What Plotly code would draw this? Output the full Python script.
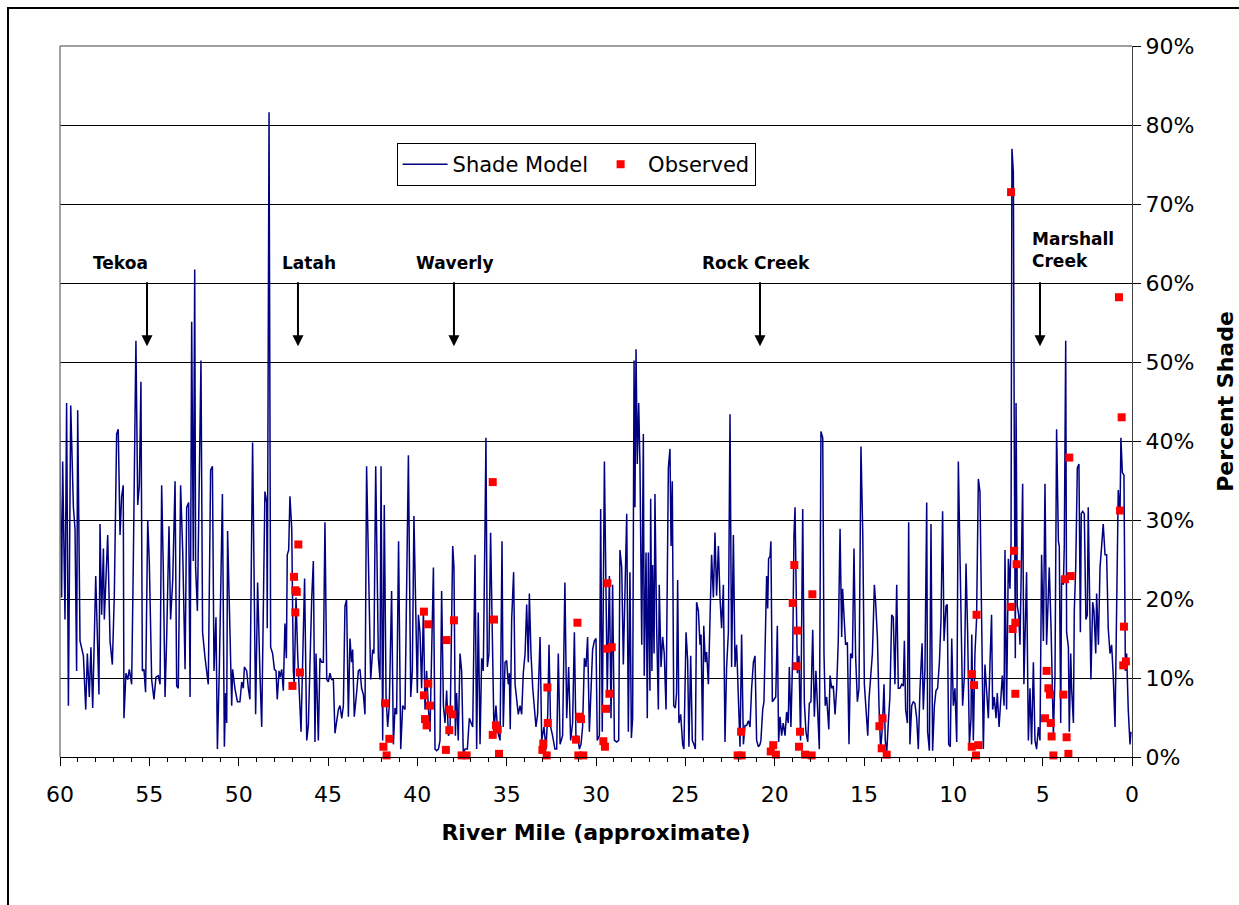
import plotly.graph_objects as go

# ---------------- data ----------------
model_mile = [
    60.28, 60.19, 60.04, 59.91, 59.85, 59.72, 59.63, 59.53, 59.40, 59.25, 59.16, 59.07, 59.01, 58.88, 58.69, 58.56,
    58.47, 58.36, 58.27, 58.17, 58.00, 57.82, 57.76, 57.67, 57.57, 57.52, 57.33, 57.20, 57.07, 56.96, 56.83, 56.74,
    56.64, 56.55, 56.46, 56.42, 56.31, 56.21, 56.12, 55.99, 55.90, 55.75, 55.65, 55.56, 55.47, 55.39, 55.30, 55.21,
    55.09, 55.00, 54.87, 54.74, 54.63, 54.50, 54.40, 54.31, 54.22, 54.12, 54.03, 53.90, 53.81, 53.69, 53.56, 53.47,
    53.38, 53.25, 53.13, 53.00, 52.91, 52.80, 52.72, 52.63, 52.54, 52.46, 52.41, 52.31, 52.11, 52.02, 51.88, 51.70,
    51.57, 51.47, 51.38, 51.27, 51.19, 51.08, 50.91, 50.80, 50.73, 50.67, 50.62, 50.49, 50.39, 50.34, 50.21, 50.07,
    49.93, 49.83, 49.74, 49.68, 49.55, 49.46, 49.37, 49.22, 49.14, 49.05, 48.94, 48.86, 48.81, 48.71, 48.62, 48.53,
    48.43, 48.40, 48.30, 48.21, 48.10, 48.00, 47.91, 47.84, 47.74, 47.69, 47.59, 47.50, 47.41, 47.33, 47.28, 47.20,
    47.13, 47.03, 46.94, 46.89, 46.79, 46.70, 46.51, 46.42, 46.31, 46.19, 46.10, 45.91, 45.82, 45.73, 45.67, 45.54,
    45.45, 45.35, 45.26, 45.17, 45.07, 44.98, 44.89, 44.80, 44.70, 44.61, 44.52, 44.42, 44.33, 44.23, 44.14, 44.05,
    43.96, 43.86, 43.77, 43.68, 43.62, 43.53, 43.40, 43.30, 43.21, 43.12, 43.02, 42.93, 42.84, 42.71, 42.61, 42.50,
    42.43, 42.33, 42.18, 42.09, 42.03, 41.94, 41.85, 41.75, 41.66, 41.57, 41.44, 41.34, 41.25, 41.16, 41.05, 40.93,
    40.82, 40.69, 40.50, 40.37, 40.28, 40.19, 40.09, 40.00, 39.94, 39.85, 39.76, 39.66, 39.57, 39.48, 39.39, 39.29,
    39.20, 39.10, 39.01, 38.92, 38.82, 38.73, 38.64, 38.54, 38.45, 38.36, 38.26, 38.17, 38.02, 37.95, 37.87, 37.80,
    37.71, 37.61, 37.52, 37.43, 37.33, 37.20, 37.09, 36.90, 36.77, 36.68, 36.59, 36.49, 36.40, 36.31, 36.21, 36.16,
    36.08, 35.99, 35.90, 35.80, 35.71, 35.60, 35.50, 35.37, 35.26, 35.19, 35.09, 35.00, 34.91, 34.85, 34.80, 34.72,
    34.61, 34.53, 34.44, 34.35, 34.25, 34.16, 34.07, 33.97, 33.88, 33.79, 33.73, 33.64, 33.54, 33.45, 33.36, 33.27,
    33.13, 33.04, 32.91, 32.80, 32.70, 32.63, 32.54, 32.43, 32.30, 32.20, 32.11, 32.01, 31.87, 31.74, 31.64, 31.53,
    31.42, 31.31, 31.21, 31.12, 31.03, 30.93, 30.84, 30.75, 30.65, 30.56, 30.47, 30.37, 30.28, 30.19, 30.09, 30.00,
    29.93, 29.81, 29.74, 29.65, 29.53, 29.46, 29.37, 29.25, 29.16, 29.07, 28.97, 28.84, 28.73, 28.66, 28.56, 28.47,
    28.38, 28.28, 28.19, 28.10, 28.02, 27.95, 27.87, 27.82, 27.76, 27.69, 27.61, 27.54, 27.44, 27.35, 27.30, 27.20,
    27.13, 27.07, 26.98, 26.94, 26.87, 26.83, 26.75, 26.70, 26.61, 26.51, 26.46, 26.36, 26.27, 26.18, 26.08, 25.95,
    25.86, 25.80, 25.73, 25.65, 25.56, 25.49, 25.43, 25.36, 25.26, 25.15, 25.08, 24.96, 24.87, 24.80, 24.70, 24.61,
    24.52, 24.44, 24.37, 24.27, 24.18, 24.12, 24.03, 23.97, 23.88, 23.81, 23.71, 23.62, 23.53, 23.43, 23.34, 23.25,
    23.15, 23.06, 22.97, 22.87, 22.78, 22.69, 22.59, 22.50, 22.41, 22.31, 22.22, 22.13, 22.03, 21.94, 21.85, 21.75,
    21.66, 21.57, 21.47, 21.38, 21.29, 21.19, 21.10, 21.01, 20.91, 20.82, 20.77, 20.67, 20.60, 20.50, 20.45, 20.39,
    20.34, 20.26, 20.21, 20.13, 20.04, 19.94, 19.85, 19.78, 19.70, 19.61, 19.52, 19.42, 19.33, 19.24, 19.18, 19.09,
    18.99, 18.92, 18.86, 18.81, 18.73, 18.64, 18.55, 18.43, 18.34, 18.25, 18.15, 18.06, 17.97, 17.87, 17.78, 17.69,
    17.59, 17.50, 17.41, 17.31, 17.24, 17.17, 17.09, 16.97, 16.90, 16.81, 16.72, 16.62, 16.53, 16.44, 16.34, 16.25,
    16.20, 16.12, 16.03, 15.93, 15.84, 15.75, 15.65, 15.56, 15.47, 15.37, 15.28, 15.17, 15.07, 14.98, 14.89, 14.79,
    14.72, 14.63, 14.53, 14.48, 14.42, 14.35, 14.25, 14.16, 14.07, 13.97, 13.88, 13.81, 13.73, 13.64, 13.55, 13.45,
    13.36, 13.27, 13.17, 13.08, 12.99, 12.89, 12.80, 12.74, 12.67, 12.57, 12.50, 12.43, 12.33, 12.24, 12.15, 12.05,
    11.96, 11.87, 11.75, 11.68, 11.59, 11.49, 11.44, 11.34, 11.25, 11.16, 11.06, 10.97, 10.88, 10.78, 10.69, 10.60,
    10.52, 10.41, 10.34, 10.26, 10.17, 10.09, 10.00, 9.91, 9.81, 9.72, 9.63, 9.53, 9.48, 9.38, 9.29, 9.20,
    9.10, 9.01, 8.97, 8.88, 8.79, 8.70, 8.60, 8.51, 8.41, 8.32, 8.23, 8.13, 8.04, 7.95, 7.86, 7.80,
    7.71, 7.61, 7.54, 7.44, 7.35, 7.26, 7.16, 7.11, 7.02, 6.92, 6.83, 6.77, 6.72, 6.64, 6.59, 6.53,
    6.49, 6.42, 6.34, 6.27, 6.18, 6.12, 6.05, 5.97, 5.90, 5.80, 5.71, 5.62, 5.52, 5.43, 5.34, 5.24,
    5.15, 5.06, 4.96, 4.87, 4.78, 4.63, 4.53, 4.40, 4.31, 4.22, 4.12, 4.07, 3.99, 3.94, 3.84, 3.79,
    3.71, 3.66, 3.56, 3.51, 3.43, 3.38, 3.28, 3.23, 3.15, 3.06, 2.97, 2.89, 2.84, 2.76, 2.67, 2.58,
    2.50, 2.45, 2.35, 2.30, 2.20, 2.13, 2.03, 1.98, 1.88, 1.79, 1.70, 1.61, 1.51, 1.42, 1.33, 1.23,
    1.14, 1.05, 0.95, 0.86, 0.77, 0.67, 0.62, 0.54, 0.45, 0.37, 0.30, 0.21, 0.11, 0.06,
]
model_shade = [
    17.7, 9.8, 43.9, 20.2, 37.4, 17.4, 44.8, 6.5, 44.5, 31.6, 28.9, 10.9, 43.9, 14.7, 12.8, 6.0,
    13.1, 7.6, 13.9, 6.2, 22.9, 7.9, 29.5, 18.0, 26.4, 17.4, 28.1, 14.7, 11.7, 20.4, 40.9, 41.5,
    28.1, 33.0, 34.4, 4.9, 10.6, 9.8, 11.1, 9.2, 24.0, 52.7, 31.9, 34.4, 47.5, 10.9, 11.1, 8.2,
    30.0, 24.6, 9.8, 7.3, 10.1, 10.3, 9.2, 34.4, 24.0, 7.6, 15.0, 29.2, 17.4, 22.4, 34.9, 9.0,
    8.7, 34.4, 25.9, 11.1, 31.6, 32.2, 7.6, 55.1, 24.8, 61.7, 24.0, 18.5, 50.2, 15.8, 12.5, 9.2,
    36.3, 36.8, 10.9, 17.7, 1.0, 11.4, 33.3, 1.3, 8.1, 4.3, 28.6, 15.2, 6.5, 11.1, 8.7, 7.0,
    7.0, 9.5, 8.7, 11.4, 10.9, 8.7, 7.3, 39.8, 22.9, 5.4, 22.1, 12.5, 10.6, 3.8, 20.7, 33.6,
    32.2, 16.3, 81.6, 13.9, 13.1, 11.1, 10.9, 7.3, 10.9, 10.1, 11.1, 8.4, 16.9, 12.5, 25.6, 26.2,
    33.0, 28.9, 10.9, 9.2, 20.2, 13.1, 3.2, 12.0, 22.6, 2.1, 4.0, 20.2, 24.8, 1.9, 13.1, 2.1,
    12.5, 12.0, 12.0, 29.7, 9.8, 9.5, 10.6, 9.8, 9.8, 3.0, 4.6, 6.0, 6.5, 4.9, 6.5, 19.1,
    19.9, 5.1, 15.0, 12.0, 13.6, 5.1, 8.1, 10.9, 11.1, 8.7, 7.9, 5.4, 36.8, 19.6, 9.8, 13.6,
    13.1, 36.8, 12.5, 9.8, 36.8, 2.1, 31.9, 7.6, 3.8, 6.5, 21.0, 1.6, 6.2, 5.4, 27.3, 1.0,
    6.5, 6.0, 38.2, 7.6, 10.9, 30.5, 15.8, 8.1, 18.0, 15.8, 8.7, 18.5, 6.0, 10.9, 6.5, 3.2,
    13.1, 24.0, 1.0, 0.8, 1.0, 2.1, 21.0, 6.5, 4.3, 8.4, 2.7, 3.2, 26.7, 24.0, 2.7, 8.1,
    2.1, 13.1, 10.9, 0.5, 1.0, 1.0, 4.9, 3.8, 25.6, 1.0, 18.3, 1.6, 12.5, 10.9, 29.5, 40.4,
    11.4, 13.1, 28.4, 12.5, 3.2, 6.5, 3.2, 2.1, 27.3, 3.8, 12.0, 12.2, 9.2, 10.6, 3.5, 17.4,
    23.4, 9.2, 7.0, 5.4, 6.5, 5.4, 10.6, 13.1, 19.3, 12.0, 20.7, 13.1, 8.7, 6.5, 3.8, 5.4,
    15.2, 2.1, 3.8, 1.0, 5.4, 14.2, 3.8, 2.7, 1.0, 1.0, 13.1, 1.6, 2.7, 22.1, 4.9, 11.4,
    2.1, 4.3, 15.8, 2.1, 2.7, 1.0, 1.6, 3.8, 12.5, 11.4, 15.2, 3.2, 8.7, 13.6, 14.7, 15.0,
    2.1, 2.7, 31.4, 3.2, 37.4, 22.4, 8.1, 22.9, 4.9, 21.8, 2.1, 1.9, 2.1, 26.2, 24.0, 11.7,
    21.3, 30.8, 3.2, 23.4, 2.4, 4.9, 50.2, 31.6, 51.6, 37.1, 44.8, 37.1, 14.2, 40.9, 10.3, 25.9,
    4.9, 25.9, 8.4, 32.7, 10.9, 24.3, 13.1, 33.3, 16.9, 6.0, 21.8, 11.4, 15.2, 13.1, 6.0, 36.6,
    39.0, 26.7, 34.9, 6.5, 6.2, 8.1, 22.4, 4.3, 5.4, 1.6, 1.0, 15.8, 12.2, 1.3, 12.8, 2.1,
    1.6, 1.0, 19.6, 18.5, 14.2, 15.5, 2.1, 16.6, 12.0, 13.3, 9.2, 16.9, 25.6, 20.2, 28.4, 20.4,
    26.7, 20.2, 16.3, 21.8, 1.9, 11.4, 15.8, 43.4, 11.4, 28.1, 11.4, 14.2, 7.6, 1.3, 15.5, 1.6,
    4.0, 4.0, 4.6, 3.8, 8.7, 12.0, 12.8, 2.1, 1.3, 1.6, 2.1, 6.0, 7.0, 18.5, 22.9, 18.8,
    25.1, 25.4, 27.3, 7.0, 7.3, 7.6, 16.6, 1.9, 5.1, 2.7, 4.3, 2.7, 5.7, 4.3, 11.4, 3.8,
    13.1, 28.1, 31.6, 24.0, 10.6, 12.8, 2.1, 31.4, 7.0, 3.2, 1.9, 6.8, 7.0, 16.1, 5.1, 10.9,
    5.4, 1.0, 41.2, 40.4, 13.1, 6.5, 7.6, 3.5, 10.3, 8.7, 9.0, 5.4, 8.7, 14.7, 28.9, 15.2,
    21.3, 16.9, 14.2, 14.5, 1.6, 13.1, 12.5, 26.4, 12.8, 7.0, 8.7, 39.3, 28.4, 9.2, 5.4, 2.7,
    7.3, 10.6, 13.1, 16.9, 21.8, 19.6, 15.2, 6.5, 1.0, 3.8, 9.2, 2.1, 0.5, 4.3, 7.6, 18.0,
    17.7, 9.2, 21.8, 8.7, 8.7, 9.2, 9.0, 14.7, 6.0, 4.3, 29.7, 1.6, 6.5, 7.0, 6.8, 4.9,
    1.0, 8.4, 14.4, 6.0, 11.1, 32.2, 3.2, 0.8, 29.5, 0.8, 6.5, 8.4, 8.7, 12.0, 17.4, 31.1,
    14.7, 19.1, 19.3, 1.6, 1.3, 15.0, 6.5, 8.7, 1.9, 37.4, 25.4, 10.3, 6.5, 10.3, 24.5, 15.8,
    1.6, 4.9, 15.5, 2.1, 13.1, 17.4, 35.2, 33.6, 18.5, 1.0, 11.7, 8.1, 4.9, 11.7, 18.0, 6.0,
    7.6, 4.9, 8.1, 3.8, 7.3, 10.3, 6.5, 26.2, 6.0, 25.1, 21.3, 27.3, 77.0, 74.0, 40.4, 12.5,
    44.8, 19.1, 18.0, 14.2, 26.2, 34.6, 9.2, 18.0, 23.4, 2.1, 8.7, 1.6, 12.0, 2.1, 1.0, 3.8,
    2.1, 25.6, 14.7, 34.6, 14.2, 24.0, 16.3, 2.7, 10.3, 41.5, 27.3, 26.7, 4.3, 22.9, 21.8, 26.7,
    52.7, 15.8, 13.9, 3.2, 13.1, 8.7, 4.3, 18.5, 24.0, 36.6, 37.1, 15.8, 30.8, 31.1, 30.8, 17.4,
    18.0, 31.6, 15.8, 9.8, 19.6, 18.5, 13.1, 20.7, 14.2, 24.0, 26.7, 29.5, 25.6, 25.6, 16.3, 13.1,
    14.2, 10.3, 3.8, 20.7, 33.8, 30.8, 40.4, 36.0, 35.7, 10.9, 13.1, 6.0, 1.6, 3.2,
]

obs_mile = [
    46.66, 46.90, 46.83, 46.75, 46.83, 46.57, 46.99,
    41.81, 41.57, 41.90, 41.72, 39.63, 39.39, 39.39, 39.63, 39.29, 39.57, 39.48,
    38.36, 37.95, 38.21, 38.04, 38.21, 38.40, 37.52, 37.24,
    35.78, 35.71, 35.60, 35.50, 35.78, 35.43, 32.72, 32.70, 32.95, 33.00, 32.76,
    31.04, 30.93, 30.84, 31.12, 30.99, 30.71, 29.36, 29.40, 29.12, 29.25, 29.44, 29.59, 29.50,
    21.88, 22.07, 21.85,
    18.90, 18.99, 18.73, 18.77, 18.58, 18.64, 18.30, 17.93, 17.89, 20.08, 20.22, 19.93,
    14.14, 13.96, 14.01, 13.73,
    6.77, 6.60, 6.46, 6.79, 6.53, 6.68, 6.53, 8.70, 8.96, 8.84, 8.97, 8.60, 8.73,
    0.73, 0.58, 0.67, 0.45, 0.49, 0.34, 3.51, 3.75, 3.43, 4.78, 4.68, 4.59, 3.84,
    4.87, 4.55, 4.50, 3.66, 4.40, 3.56,
]
obs_shade = [
    26.9, 22.8, 21.1, 20.9, 18.3, 10.7, 9.0,
    6.8, 2.3, 1.3, 0.2, 18.4, 16.8, 9.3, 7.8, 6.5, 4.8, 4.0,
    14.8, 17.3, 6.0, 5.4, 3.4, 0.9, 0.2, 0.2,
    34.8, 17.4, 4.0, 3.5, 2.8, 0.4, 8.8, 4.3, 1.7, 0.9, 0.2,
    17.0, 5.1, 4.8, 2.2, 0.2, 0.2, 22.0, 13.7, 13.9, 8.0, 6.1, 2.0, 1.3,
    3.2, 0.2, 0.2,
    24.3, 19.5, 16.0, 11.5, 3.2, 1.3, 0.3, 0.2, 20.6, 1.5, 0.7, 0.3,
    3.9, 4.9, 1.1, 0.3,
    71.5, 26.1, 24.4, 19.0, 17.0, 16.2, 8.0, 18.0, 10.5, 9.1, 1.3, 1.5, 0.2,
    58.2, 43.0, 31.2, 16.5, 11.6, 12.1, 37.9, 22.5, 22.9, 10.9, 8.7, 7.9, 7.9,
    4.9, 4.3, 2.6, 2.5, 0.2, 0.4,
]

place_names = ["Tekoa", "Latah", "Waverly", "Rock Creek", "Marshall<br>Creek"]
place_label_mile = [56.64, 46.06, 37.89, 21.05, 5.71]
place_label_anchor = ["center", "center", "center", "center", "left"]
place_label_shade = [62.5, 62.5, 62.5, 62.5, 64.2]
place_arrow_mile = [55.13, 46.68, 37.95, 20.82, 5.15]
arrow_top = 60.3
arrow_tip = 52.0

x_ticks = [60, 55, 50, 45, 40, 35, 30, 25, 20, 15, 10, 5, 0]
y_ticks = [0, 10, 20, 30, 40, 50, 60, 70, 80, 90]

FONT = "DejaVu Sans"

fig = go.Figure()
fig.add_trace(go.Scatter(
    x=model_mile, y=model_shade, mode="lines", name="Shade Model",
    line=dict(color="#000080", width=1.5),
))
fig.add_trace(go.Scatter(
    x=obs_mile, y=obs_shade, mode="markers", name="Observed",
    marker=dict(symbol="square", size=8, color="#FF0000", line=dict(width=0)),
    cliponaxis=False,
))

annotations = []
for name, lm, la, ls, am in zip(place_names, place_label_mile, place_label_anchor,
                                place_label_shade, place_arrow_mile):
    annotations.append(dict(
        x=lm, y=ls, xref="x", yref="y", text=name, showarrow=False,
        xanchor=la, yanchor="middle", align="left",
        font=dict(family=FONT, size=17, color="black", weight="bold"),
    ))
    annotations.append(dict(
        x=am, y=arrow_tip, xref="x", yref="y", ax=am, ay=arrow_top,
        axref="x", ayref="y", text="", showarrow=True,
        arrowhead=2, arrowsize=1.1, arrowwidth=2, arrowcolor="black", standoff=0,
    ))

fig.update_layout(
    width=1239, height=905,
    margin=dict(l=60, r=107, t=46, b=148),
    paper_bgcolor="white", plot_bgcolor="white",
    font=dict(family=FONT, color="black"),
    showlegend=True,
    legend=dict(
        x=0.314, y=0.8636, xanchor="left", yanchor="top", orientation="h",
        bgcolor="white", bordercolor="black", borderwidth=1, itemwidth=45,
        font=dict(family=FONT, size=21, color="black"),
    ),
    annotations=annotations,
    xaxis=dict(
        range=[60, 0], tickvals=x_ticks, ticktext=[str(t) for t in x_ticks],
        ticks="outside", ticklen=8, tickcolor="black", tickwidth=1,
        minor=dict(dtick=1, ticks="outside", ticklen=4, tickcolor="black", showgrid=False),
        showline=True, linecolor="black", linewidth=1, showgrid=False, zeroline=False,
        tickfont=dict(family=FONT, size=22, color="black"),
        ticklabelstandoff=10,
        title=dict(text="River Mile (approximate)", standoff=18,
                   font=dict(family=FONT, size=22, color="black", weight="bold")),
        automargin=False,
    ),
    yaxis=dict(
        range=[0, 90], tickvals=y_ticks, ticktext=[f"{t}%" for t in y_ticks],
        side="right", ticks="outside", ticklen=8, tickcolor="black",
        showline=True, linecolor="#404040", linewidth=1,
        showgrid=True, gridcolor="black", gridwidth=1, zeroline=False,
        tickfont=dict(family=FONT, size=22, color="black"),
        title=dict(text="Percent Shade", standoff=24,
                   font=dict(family=FONT, size=22, color="black", weight="bold")),
        automargin=False,
    ),
    shapes=[
        dict(type="line", xref="paper", yref="paper", x0=0, x1=0, y0=0, y1=1,
             line=dict(color="#808080", width=1.5)),
        dict(type="line", xref="paper", yref="paper", x0=0, x1=1, y0=1, y1=1,
             line=dict(color="#808080", width=1.5)),
        dict(type="rect", xref="paper", yref="paper", x0=-0.0485, x1=1.2, y0=-0.5, y1=1.0534,
             line=dict(color="black", width=2), fillcolor="rgba(0,0,0,0)"),
    ],
)

fig.write_html("out.html", config={"displayModeBar": False},
               post_script="document.body.style.margin='0';")
